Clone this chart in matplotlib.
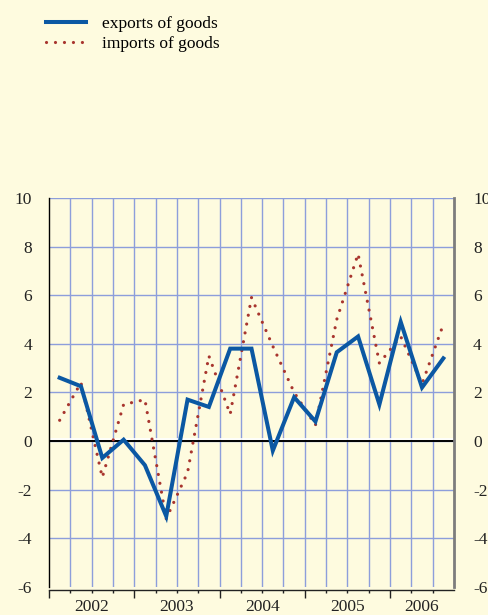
import matplotlib.pyplot as plt
import numpy as np

# quarterly growth, 2002Q1 - 2006Q3
quarters = ['2002Q1', '2002Q2', '2002Q3', '2002Q4',
            '2003Q1', '2003Q2', '2003Q3', '2003Q4',
            '2004Q1', '2004Q2', '2004Q3', '2004Q4',
            '2005Q1', '2005Q2', '2005Q3', '2005Q4',
            '2006Q1', '2006Q2', '2006Q3']
exports = [2.6, 2.25, -0.7, 0.05, -1.0, -3.1, 1.7, 1.4,
           3.8, 3.8, -0.4, 1.8, 0.8, 3.65, 4.3, 1.5,
           4.9, 2.2, 3.4]
imports = [0.85, 2.4, -1.5, 1.5, 1.7, -3.2, -1.3, 3.5,
           1.1, 5.9, 3.9, 2.0, 0.65, 5.0, 7.7, 3.2,
           4.3, 2.35, 4.8]
years = ['2002', '2003', '2004', '2005', '2006']
yticks = [-6, -4, -2, 0, 2, 4, 6, 8, 10]

bg = '#fefbdf'
blue = '#0b58a3'
red = '#a8352e'
gridc = '#8d9edb'
serif = ['Liberation Serif', 'DejaVu Serif']

plt.rcParams['font.family'] = serif
plt.rcParams['axes.unicode_minus'] = False

fig = plt.figure(figsize=(4.88, 6.15), dpi=100)
fig.patch.set_facecolor(bg)
ax = fig.add_axes([49 / 488, 28.3 / 615, 405 / 488, 388.7 / 615])
ax.set_facecolor(bg)

x = np.arange(len(quarters))
ax.set_xlim(-0.5, len(quarters) - 0.5)
ax.set_ylim(-6, 10)

# grid: quarter boundaries and every 2 points
bounds = np.arange(-0.5, len(quarters), 1.0)
for b in bounds[1:-1]:
    ax.axvline(b, color=gridc, lw=1.0, zorder=1)
for yv in yticks[1:]:
    ax.axhline(yv, color=gridc, lw=1.0, zorder=1)
ax.axhline(0.09, color='white', lw=1.2, zorder=2)
ax.axhline(0, color='black', lw=1.4, zorder=2)

ax.plot(x, imports, color=red, lw=2.3, linestyle=(0, (0.01, 2.8)),
        dash_capstyle='round', zorder=3, label='imports of goods')
ax.plot(x, exports, color=blue, lw=2.9, solid_joinstyle='miter',
        zorder=4, label='exports of goods')

# spines
ax.spines['top'].set_visible(False)
ax.spines['left'].set_color('black')
ax.spines['left'].set_linewidth(1.0)
ax.spines['right'].set_color('#7d7d7d')
ax.spines['right'].set_linewidth(2.0)
ax.spines['bottom'].set_position(('outward', 2.2))
ax.spines['bottom'].set_linewidth(1.0)
ax.spines['bottom'].set_color('#222222')

# x ticks: long at year starts, short at quarter boundaries
year_starts = [i - 0.5 for i, q in enumerate(quarters) if q.endswith('Q1')]
ax.set_xticks(year_starts)
ax.set_xticks([b for b in bounds[:-1] if b not in year_starts], minor=True)
ax.tick_params(axis='x', which='major', length=5.8, width=1.0, direction='out',
               labelbottom=False, color='#222222')
ax.tick_params(axis='x', which='minor', length=2.2, width=1.0, direction='out',
               color='#222222')
for yr in years:
    idx = [i for i, q in enumerate(quarters) if q.startswith(yr)]
    ax.text(np.mean(idx), -0.032, yr, transform=ax.get_xaxis_transform(),
            ha='center', va='top', fontsize=12.5, color='#222222')

# y labels on both sides
ax.set_yticks(yticks)
ax.tick_params(axis='y', length=0, pad=12.2, labelsize=12.5, labelcolor='#222222')
ax2 = ax.twinx()
ax2.set_ylim(ax.get_ylim())
ax2.set_yticks(yticks)
ax2.tick_params(axis='y', length=0, pad=13.7, labelsize=12.5, labelcolor='#222222')
for s in ax2.spines.values():
    s.set_visible(False)

handles, labels = ax.get_legend_handles_labels()
fig.legend(handles[::-1], labels[::-1], loc='upper left',
           bbox_to_anchor=(46 / 488, 1 - 16 / 615), frameon=False,
           fontsize=12.5, handlelength=2.3, handletextpad=0.9,
           labelspacing=0.2, borderpad=0, borderaxespad=0)

fig.savefig('out.png', dpi=100, facecolor=bg)
